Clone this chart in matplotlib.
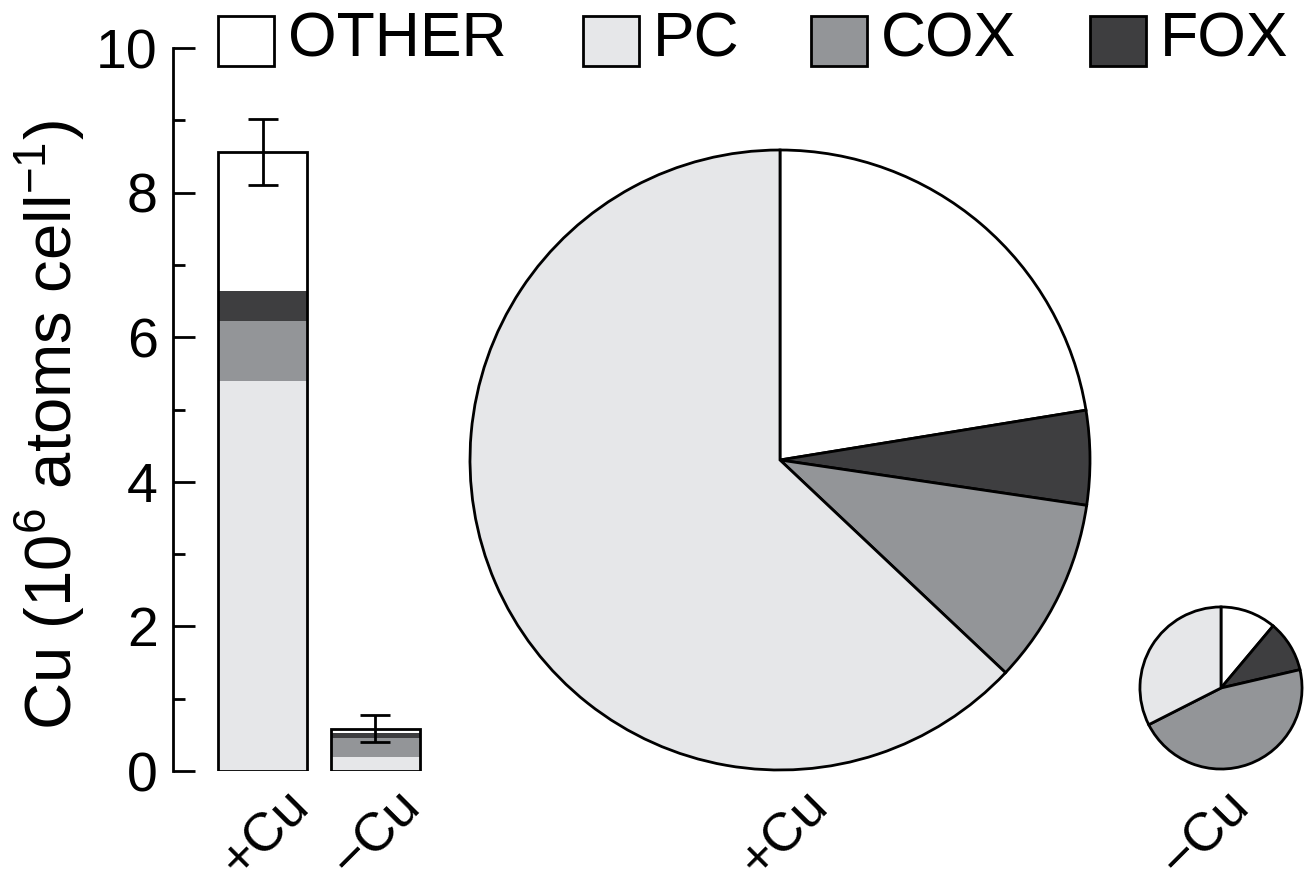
import matplotlib.pyplot as plt
import numpy as np
from matplotlib.patches import Rectangle

plt.rcParams['font.family'] = ['Liberation Sans', 'DejaVu Sans']
plt.rcParams['mathtext.fontset'] = 'custom'
plt.rcParams['mathtext.rm'] = 'Liberation Sans'

# data (10^6 Cu atoms per cell)
treatments = ['+Cu', '\u2212Cu']
pc = [5.39, 0.19]
cox = [0.83, 0.27]
fox = [0.42, 0.06]
other = [1.92, 0.065]
err = [0.46, 0.19]

names = ['OTHER', 'PC', 'COX', 'FOX']
colors = {'OTHER': 'white', 'PC': '#e6e7e9', 'COX': '#939598', 'FOX': '#3e3e40'}
lw = 2.0

W, H = 1311, 888
fig = plt.figure(figsize=(W / 100, H / 100), dpi=100)

# full-figure axes in pixel units for pies, legend and labels
pax = fig.add_axes([0, 0, 1, 1])

# bar axes
ax = fig.add_axes([173 / W, 117 / H, 267 / W, 723 / H])
x = np.arange(len(treatments))
bw = 0.79
bottom = np.zeros(len(x))
for seg, name in [(pc, 'PC'), (cox, 'COX'), (fox, 'FOX'), (other, 'OTHER')]:
    ax.bar(x, seg, bw, bottom=bottom, color=colors[name], edgecolor='none')
    bottom = bottom + np.array(seg)
total = bottom
ax.bar(x, total, bw, fill=False, edgecolor='black', linewidth=lw)
ax.errorbar(x, total, yerr=err, fmt='none', ecolor='black', elinewidth=lw,
            capsize=11, capthick=lw)
ax.set_xlim(-0.796, 1.577)
ax.set_ylim(0, 10)
ax.set_yticks([0, 2, 4, 6, 8, 10])
ax.set_yticks([1, 3, 5, 7, 9], minor=True)
ax.set_xticks([])
for s in ['top', 'right', 'bottom']:
    ax.spines[s].set_visible(False)
ax.spines['left'].set_linewidth(lw)
ax.tick_params(axis='y', which='major', direction='in', length=16, width=lw,
               labelsize=40, pad=11)
ax.tick_params(axis='y', which='minor', direction='in', length=8.5, width=lw)
ax.patch.set_alpha(0)

fig.text(50 / W, 1 - 425 / H, r'Cu (10$^{6}$ atoms cell$^{-1}$)', rotation=90,
         ha='center', va='center', fontsize=47)

# pies, area proportional to total
R = 310
centers = [(780, H - 460), (1221, H - 688)]
for i in range(len(treatments)):
    vals = [other[i], fox[i], cox[i], pc[i]]
    cols = [colors['OTHER'], colors['FOX'], colors['COX'], colors['PC']]
    r = R * np.sqrt(total[i] / total[0])
    pax.pie(vals, colors=cols, startangle=90, counterclock=False,
            radius=r, center=centers[i], frame=True,
            wedgeprops=dict(edgecolor='black', linewidth=lw))
pax.set_xlim(0, W)
pax.set_ylim(0, H)
pax.axis('off')

# rotated labels
label_pos = [(266, 834), (377, 834), (785, 834), (1206, 834)]
for (lx, ly), t in zip(label_pos, treatments + treatments):
    pax.text(lx, H - ly, t, rotation=45, ha='center', va='center', fontsize=39)

# legend
box_x = [218, 583, 811, 1090]
for bx, name in zip(box_x, names):
    pax.add_patch(Rectangle((bx, H - 66), 56, 50, facecolor=colors[name],
                            edgecolor='black', linewidth=lw))
    pax.text(bx + 70, H - 40, name, ha='left', va='center', fontsize=45)

fig.savefig('out.png', dpi=100)
